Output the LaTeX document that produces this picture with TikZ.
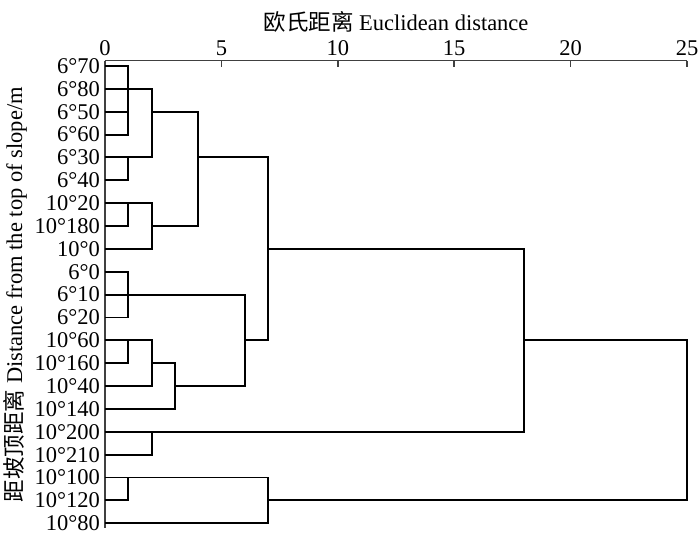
\documentclass[tikz,border=0pt]{standalone}
\usepackage{fontspec}
\setmainfont{Liberation Serif}
\newfontfamily\cjk{Noto Sans CJK SC}
\usetikzlibrary{positioning}

\begin{document}
\begin{tikzpicture}[
    x=0.582cm, y=-0.5715cm,
    font=\fontsize{16}{18}\selectfont,
    leaf/.style={anchor=east, inner xsep=3.5pt, inner ysep=0pt},
    branch/.style={line width=1.4pt, black},
    axis/.style={line width=1.1pt, black!75},
    ticklabel/.style={anchor=base, inner sep=0pt}
]
\useasboundingbox (-4.51,-2.888) rectangle (25.558,20.48);

% Axes
\coordinate (o) at (0,-0.24);
\coordinate (xend) at (25,-0.24);
\coordinate (yend) at (0,20.2);
\draw[axis] (o) -- (xend);
\draw[axis] (o) -- (yend);
\foreach \d in {0,5,...,25} {
    \node[ticklabel] (t\d) at (\d,-0.48) {\d};
}
\foreach \d in {5,10,...,25} {
    \draw[axis] (\d,-0.24) -- (\d,0.03);
}
\node[anchor=base] (title) at (12.5,-1.57) {{\cjk 欧氏距离} Euclidean distance};
\node[rotate=90] (ylab) at (-3.87,10) {{\cjk 距坡顶距离} Distance from the top of slope/m};

% Samples
\node[leaf] (l0) at (0,0) {6°70};
\node[leaf] (l1) at (0,1) {6°80};
\node[leaf] (l2) at (0,2) {6°50};
\node[leaf] (l3) at (0,3) {6°60};
\node[leaf] (l4) at (0,4) {6°30};
\node[leaf] (l5) at (0,5) {6°40};
\node[leaf] (l6) at (0,6) {10°20};
\node[leaf] (l7) at (0,7) {10°180};
\node[leaf] (l8) at (0,8) {10°0};
\node[leaf] (l9) at (0,9) {6°0};
\node[leaf] (l10) at (0,10) {6°10};
\node[leaf] (l11) at (0,11) {6°20};
\node[leaf] (l12) at (0,12) {10°60};
\node[leaf] (l13) at (0,13) {10°160};
\node[leaf] (l14) at (0,14) {10°40};
\node[leaf] (l15) at (0,15) {10°140};
\node[leaf] (l16) at (0,16) {10°200};
\node[leaf] (l17) at (0,17) {10°210};
\node[leaf] (l18) at (0,18) {10°100};
\node[leaf] (l19) at (0,19) {10°120};
\node[leaf] (l20) at (0,20) {10°80};

% Merge points (distance, row)
\coordinate (A) at (1,1);
\coordinate (B) at (2,2);
\coordinate (C) at (1,4);
\coordinate (D) at (1,6);
\coordinate (D2) at (2,7);
\coordinate (E) at (4,4);
\coordinate (F) at (7,8);
\coordinate (G) at (1,10);
\coordinate (H) at (1,12);
\coordinate (H2) at (2,13);
\coordinate (I) at (3,14);
\coordinate (K) at (6,12);
\coordinate (L) at (2,16);
\coordinate (M) at (18,12);
\coordinate (N) at (1,18);
\coordinate (N2) at (7,19);
\coordinate (Z) at (25,12);

% First group
\draw[branch] (l0.east) -| (A) |- (l3.east);
\draw[branch] (l1.east) -- (A);
\draw[branch] (l2.east) -| (A);
\draw[branch] (l4.east) -- (C);
\draw[branch] (l5.east) -| (C);
\draw[branch] (A) -| (B) |- (C);
\draw[branch] (l6.east) -- (D);
\draw[branch] (l7.east) -| (D);
\draw[branch] (D) -| (D2) |- (l8.east);
\draw[branch] (B) -| (E) |- (D2);

% Second group
\draw[branch] (l9.east) -| (G) |- (l11.east);
\draw[branch] (l10.east) -- (G);
\draw[branch] (l12.east) -- (H);
\draw[branch] (l13.east) -| (H);
\draw[branch] (H) -| (H2) |- (l14.east);
\draw[branch] (H2) -| (I) |- (l15.east);
\draw[branch] (G) -| (K) |- (I);
\draw[branch] (E) -| (F) |- (K);

% Third and fourth groups
\draw[branch] (l16.east) -- (L);
\draw[branch] (l17.east) -| (L);
\draw[branch] (F) -| (M) |- (L);
\draw[branch] (l18.east) -- (N);
\draw[branch] (l19.east) -| (N);
\draw[branch] (N) -| (N2) |- (l20.east);
\draw[branch] (M) -| (Z) |- (N2);

\end{tikzpicture}
\end{document}
